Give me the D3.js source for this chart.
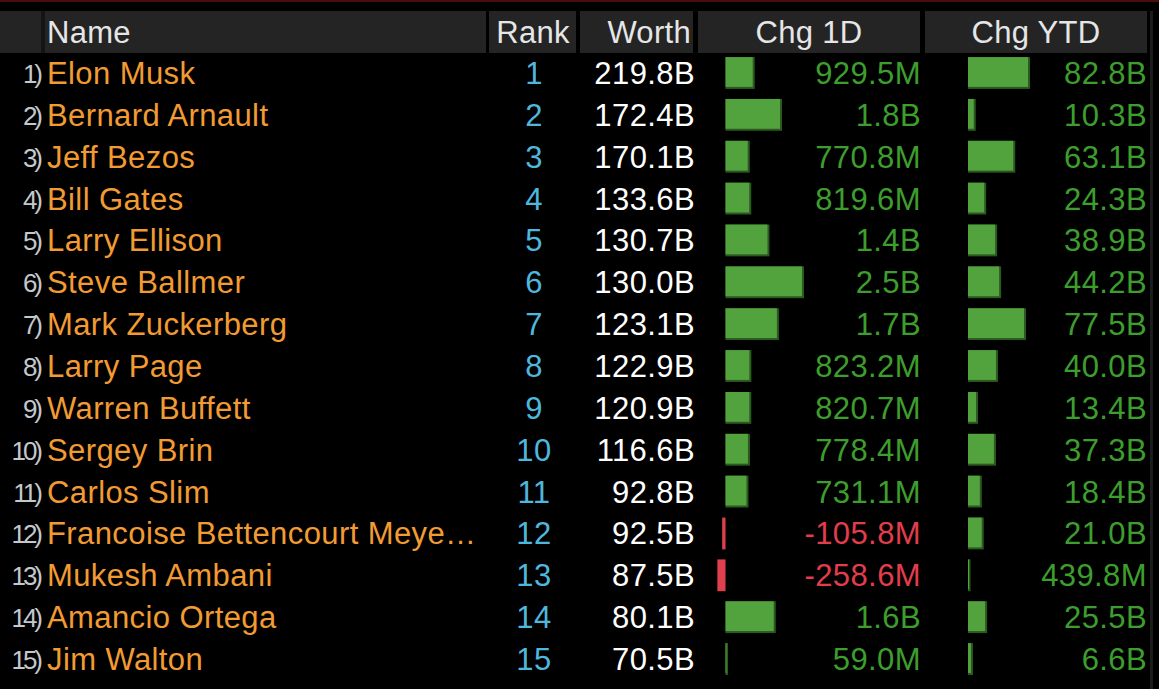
<!DOCTYPE html>
<html>
<head>
<meta charset="utf-8">
<script src="https://cdn.jsdelivr.net/npm/d3@7"></script>
<style>
  html, body { margin: 0; padding: 0; background: #000; }
  svg { display: block; }
  text { font-family: "Liberation Sans", Arial, sans-serif; }
</style>
</head>
<body>
<svg id="chart" width="1159" height="689"></svg>
<script>
const names = ["Elon Musk","Bernard Arnault","Jeff Bezos","Bill Gates","Larry Ellison","Steve Ballmer","Mark Zuckerberg","Larry Page","Warren Buffett","Sergey Brin","Carlos Slim","Francoise Bettencourt Meye\u2026","Mukesh Ambani","Amancio Ortega","Jim Walton"];
const ranks = [1,2,3,4,5,6,7,8,9,10,11,12,13,14,15];
const worthB = [219.8,172.4,170.1,133.6,130.7,130.0,123.1,122.9,120.9,116.6,92.8,92.5,87.5,80.1,70.5];
const chg1dM = [929.5,1800,770.8,819.6,1400,2500,1700,823.2,820.7,778.4,731.1,-105.8,-258.6,1600,59.0];
const chgYtdM = [82800,10300,63100,24300,38900,44200,77500,40000,13400,37300,18400,21000,439.8,25500,6600];
const headers = ["Name","Rank","Worth","Chg 1D","Chg YTD"];

const svg = d3.select("#chart");
const W = 1159, H = 689;
const rowH = 41.86, firstRowCenter = 73;

const locale = d3.formatLocale({decimal: ".", thousands: ",", grouping: [3], currency: ["$", ""], minus: "-"});
const f1 = locale.format(".1f");
const fmt = m => Math.abs(m) < 1000 ? f1(m) + "M" : f1(m / 1000) + "B";

const y = d3.scaleBand().domain(d3.range(names.length))
  .range([firstRowCenter - rowH/2, firstRowCenter - rowH/2 + rowH*names.length])
  .paddingInner(0.24).paddingOuter(0.12);

const x1d = d3.scaleLinear().domain([0, 2500]).range([725.5, 804]);
const xYtd = d3.scaleLinear().domain([0, 82800]).range([968, 1030]);

svg.append("rect").attr("width", W).attr("height", H).attr("fill", "#000");
svg.append("rect").attr("x", 0).attr("y", 0).attr("width", W).attr("height", 2).attr("fill", "#4a0c0c");

const bands = [[0,41],[45,486],[489,576],[580,693],[698,920],[925,1147]];
svg.selectAll("rect.hb").data(bands).join("rect").attr("class","hb")
  .attr("x", d => d[0]).attr("y", 11).attr("width", d => d[1]-d[0]).attr("height", 42).attr("fill", "#242424");
svg.append("rect").attr("x", 41).attr("y", 11).attr("width", 4).attr("height", 42).attr("fill", "#141414");
svg.append("rect").attr("x", 1150).attr("y", 11).attr("width", 3).attr("height", H-11).attr("fill", "#1c1c1c");

const hdr = svg.append("g").attr("fill", "#e6e6e6").style("font-size", "31px").attr("letter-spacing", "0.3");
hdr.append("text").attr("x", 47).attr("y", 43).text(headers[0]);
hdr.append("text").attr("x", 533).attr("y", 43).attr("text-anchor","middle").text(headers[1]);
hdr.append("text").attr("x", 691).attr("y", 43).attr("text-anchor","end").text(headers[2]);
hdr.append("text").attr("x", 809).attr("y", 43).attr("text-anchor","middle").text(headers[3]);
hdr.append("text").attr("x", 1036).attr("y", 43).attr("text-anchor","middle").text(headers[4]);

const rows = svg.append("g").selectAll("g").data(names.map((n,i)=>i)).join("g")
  .attr("transform", i => `translate(0,${firstRowCenter + i*rowH})`);

const ls = "0.4";
rows.append("text").attr("x", 40).attr("y", 10).attr("text-anchor","end")
  .attr("fill", "#c4c8cc").style("font-size", "26px").attr("letter-spacing", "-3")
  .text(i => (i+1) + ")");
rows.append("text").attr("x", 47).attr("y", 11).attr("fill", "#f29b33").style("font-size", "31px").attr("letter-spacing", ls)
  .text(i => names[i]);
rows.append("text").attr("x", 534).attr("y", 11).attr("text-anchor","middle").attr("fill", "#4fb7dd").style("font-size", "31px").attr("letter-spacing", ls)
  .text(i => ranks[i]);
rows.append("text").attr("x", 695).attr("y", 11).attr("text-anchor","end").attr("fill", "#ffffff").style("font-size", "31px").attr("letter-spacing", ls)
  .text(i => f1(worthB[i]) + "B");

const bh = y.bandwidth();
const pos = "#52a23d", posDark = "#2b5a21", neg = "#e0404e";

function drawBar(sel, scale, vals) {
  sel.each(function(i) {
    const v = vals[i];
    const z = scale(0);
    let w = Math.abs(scale(v) - z);
    w = Math.max(w, 2.5);
    const x0 = v >= 0 ? z : z - w;
    const g = d3.select(this);
    if (v >= 0) {
      g.append("rect").attr("x", x0).attr("y", -bh/2).attr("width", w).attr("height", bh).attr("fill", posDark);
      g.append("rect").attr("x", x0).attr("y", -bh/2).attr("width", Math.max(w-2, 1)).attr("height", bh-2).attr("fill", pos);
    } else {
      g.append("rect").attr("x", x0).attr("y", -bh/2).attr("width", w).attr("height", bh).attr("fill", neg);
    }
  });
}
drawBar(rows, x1d, chg1dM);
drawBar(rows, xYtd, chgYtdM);

rows.append("text").attr("x", 921).attr("y", 11).attr("text-anchor","end")
  .attr("fill", i => chg1dM[i] < 0 ? "#e33d4b" : "#3d9e2e").style("font-size", "31px").attr("letter-spacing", ls)
  .text(i => fmt(chg1dM[i]));
rows.append("text").attr("x", 1147).attr("y", 11).attr("text-anchor","end")
  .attr("fill", i => chgYtdM[i] < 0 ? "#e33d4b" : "#3d9e2e").style("font-size", "31px").attr("letter-spacing", ls)
  .text(i => fmt(chgYtdM[i]));
</script>
</body>
</html>
